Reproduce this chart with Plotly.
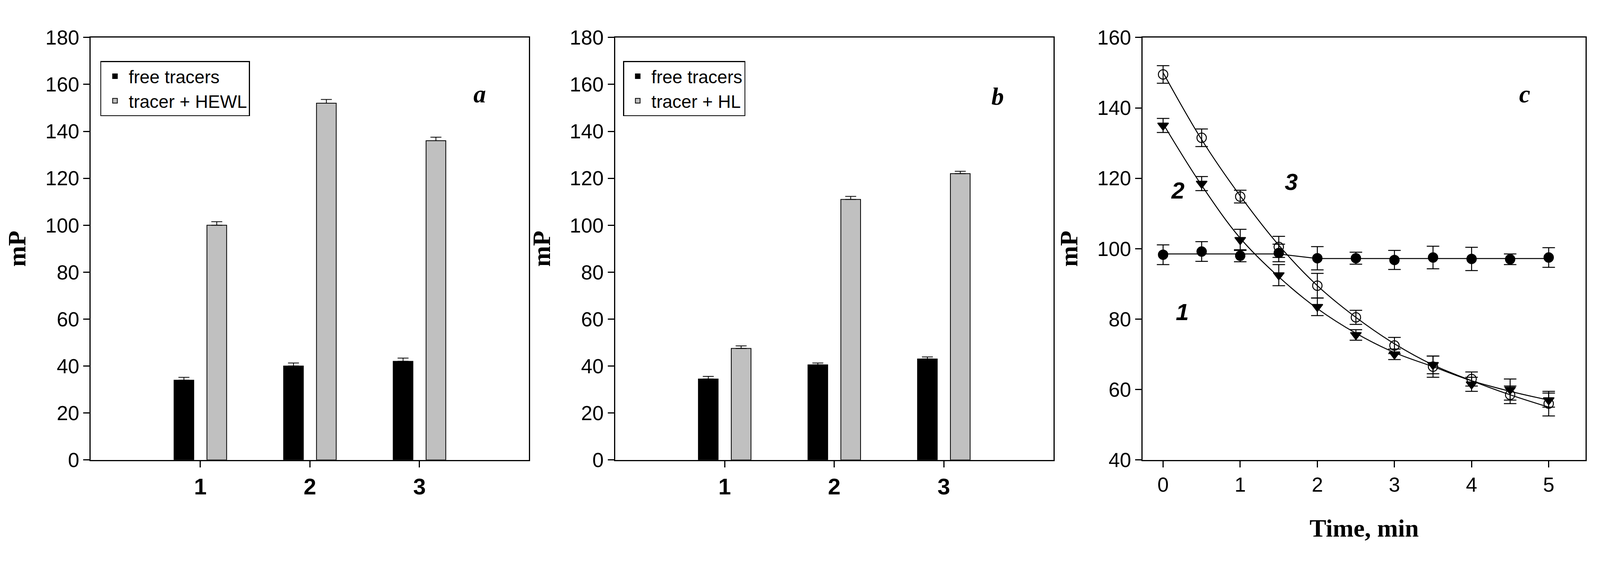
import plotly.graph_objects as go

# panel a / b bar data
groups = [1, 2, 3]
a_free = [34, 40, 42]
a_free_err = [1.2, 1.3, 1.4]
a_hewl = [100, 152, 136]
a_hewl_err = [1.5, 1.6, 1.5]
b_free = [34.5, 40.5, 43]
b_free_err = [1.1, 0.8, 0.9]
b_hl = [47.5, 111, 122]
b_hl_err = [1.1, 1.3, 1.0]

# panel c kinetics
t = [0, 0.5, 1, 1.5, 2, 2.5, 3, 3.5, 4, 4.5, 5]
c1 = [98.3, 99.2, 98.0, 98.8, 97.3, 97.3, 96.8, 97.5, 97.1, 97.0, 97.5]
c1_err = [2.8, 2.8, 1.7, 2.5, 3.3, 1.7, 2.7, 3.2, 3.3, 1.5, 2.8]
c1_fit = [98.5, 98.5, 98.5, 98.5, 97.2, 97.2, 97.2, 97.2, 97.2, 97.2, 97.2]
c2 = [135, 118.5, 102.5, 92.5, 83.5, 75.5, 70, 67, 61.5, 60, 57]
c2_err = [2, 2, 3, 3, 2.5, 1.5, 1.5, 2.5, 2, 3, 2]
c2_fit = [135.5, 118, 103, 92, 83, 76, 70.5, 66.5, 62.5, 59.5, 57]
c3 = [149.5, 131.5, 114.8, 100.5, 89.5, 80.5, 72.5, 66.5, 63, 58.5, 56]
c3_err = [2.5, 2.5, 1.8, 3, 3.5, 2, 2.3, 3, 2, 2.5, 3.5]
c3_fit = [150, 131, 115, 101, 89.5, 80.5, 73, 67, 62.5, 58.5, 55]

BW = 0.18
OFF = 0.15
fig = go.Figure()

def bars(vals, errs, off, color, name, xa, ya, leg):
    fig.add_trace(go.Bar(
        x=[g + off for g in groups], y=vals, width=BW, name=name,
        marker=dict(color=color, line=dict(color="black", width=2)),
        error_y=dict(type="data", array=errs, arrayminus=[0] * len(errs),
                     symmetric=False, color="black", thickness=2, width=14),
        xaxis=xa, yaxis=ya, legend=leg))

bars(a_free, a_free_err, -OFF, "black", "free tracers", "x", "y", "legend")
bars(a_hewl, a_hewl_err, OFF, "#c0c0c0", "tracer + HEWL", "x", "y", "legend")
bars(b_free, b_free_err, -OFF, "black", "free tracers", "x2", "y2", "legend2")
bars(b_hl, b_hl_err, OFF, "#c0c0c0", "tracer + HL", "x2", "y2", "legend2")

for fit, shape in [(c1_fit, "linear"), (c2_fit, "spline"), (c3_fit, "spline")]:
    fig.add_trace(go.Scatter(x=t, y=fit, mode="lines", line=dict(color="black", width=2.5, shape=shape),
                             xaxis="x3", yaxis="y3", showlegend=False))

for vals, errs, sym in [(c1, c1_err, "circle"), (c2, c2_err, "triangle-down"), (c3, c3_err, "circle-open")]:
    fig.add_trace(go.Scatter(
        x=t, y=vals, mode="markers",
        marker=dict(symbol=sym, size=24, color="black", line=dict(color="black", width=2.5)),
        error_y=dict(type="data", array=errs, color="black", thickness=2.5, width=16),
        xaxis="x3", yaxis="y3", showlegend=False))

tickfont = dict(family="Arial", size=52, color="black")
titlefont = dict(family="Times New Roman, Liberation Serif", size=64, color="black", weight="bold")
base_ax = dict(showline=True, linecolor="black", linewidth=3, mirror=True, ticks="outside",
               ticklen=16, tickwidth=2.5, tickcolor="black", showgrid=False, zeroline=False,
               tickfont=tickfont)

doms = [(0.055, 0.330), (0.384, 0.659), (0.715, 0.993)]
ydom = [0.187, 0.958]
layout = dict(autosize=True, plot_bgcolor="white", paper_bgcolor="white",
              margin=dict(l=0, r=0, t=0, b=0), barmode="overlay")
for i, (d, suf) in enumerate(zip(doms, ["", "2", "3"])):
    xa = dict(base_ax, domain=list(d), anchor="y" + suf)
    ya = dict(base_ax, domain=ydom, anchor="x" + suf,
              title=dict(text="mP", font=titlefont, standoff=30))
    if i < 2:
        xa.update(range=[0, 4], tickvals=groups,
                  tickfont=dict(family="Arial", size=58, color="black", weight="bold"))
        ya.update(range=[0, 180], dtick=20)
    else:
        xa.update(range=[-0.265, 5.48], dtick=1,
                  title=dict(text="Time, min", font=titlefont, standoff=60))
        ya.update(range=[40, 160], dtick=20)
    layout["xaxis" + suf] = xa
    layout["yaxis" + suf] = ya

legstyle = dict(bordercolor="black", borderwidth=2.5, bgcolor="white",
                font=dict(family="Arial", size=46, color="black"),
                xanchor="left", yanchor="top", itemwidth=60, tracegroupgap=4)
layout["legend"] = dict(legstyle, x=0.061, y=0.915)
layout["legend2"] = dict(legstyle, x=0.389, y=0.915)
fig.update_layout(**layout)

lbl_serif = dict(family="Times New Roman, Liberation Serif", size=64, color="black", weight="bold", style="italic")
lbl_sans = dict(family="Arial", size=60, color="black", weight="bold", style="italic")
fig.add_annotation(x=3.55, y=156, text="a", showarrow=False, xref="x", yref="y", font=lbl_serif)
fig.add_annotation(x=3.49, y=155, text="b", showarrow=False, xref="x2", yref="y2", font=lbl_serif)
fig.add_annotation(x=4.69, y=144, text="c", showarrow=False, xref="x3", yref="y3", font=lbl_serif)
for x, y, s in [(0.25, 82, "1"), (0.19, 116.5, "2"), (1.66, 119, "3")]:
    fig.add_annotation(x=x, y=y, text=s, showarrow=False, xref="x3", yref="y3", font=lbl_sans)

fig.write_html("out.html", default_width="100%", default_height="1460px",
               config={"responsive": True})
